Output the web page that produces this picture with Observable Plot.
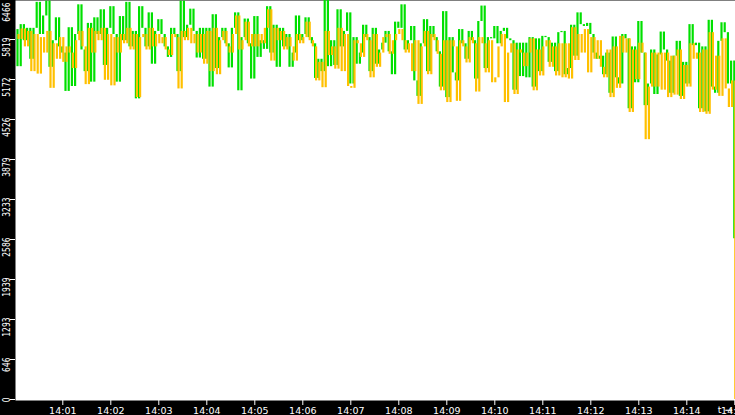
<!DOCTYPE html>
<html><head><meta charset="utf-8">
<script src="https://cdn.jsdelivr.net/npm/d3@7"></script>
<script src="https://cdn.jsdelivr.net/npm/@observablehq/plot@0.6"></script>
<style>html,body{margin:0;padding:0;background:#000;overflow:hidden}</style>
</head><body><div id="chart"></div>
<script>
const startTime = "2024-01-01T14:00:00Z";
const stepSeconds = 4;

// green series (one value every 4 s)
const greenValues = [
5980,5380,6060,5800,6000,5500,6000,6420,5900,6200,
6440,5370,5800,6170,5700,5600,4980,6010,5060,5900,
6380,5650,5300,6080,5130,6170,5900,6300,5400,6000,
6350,5900,5130,6190,5800,6420,5700,5950,4860,6350,
6000,5700,6250,5420,5950,6140,5900,5700,5530,6000,
5900,5300,6440,5850,6050,6310,5950,5520,6000,5500,
6000,5050,6220,5350,5850,6000,5750,5360,6000,6250,
4990,5850,6150,5750,5180,
6190,5530,5800,5660,6350,5600,6050,5370,6000,5700,
5900,5370,5600,6200,5800,5900,6170,5850,5750,5190,
5500,5300,6460,5380,5800,5400,6300,5700,5950,6250,
5100,5850,5420,5600,6050,5850,5300,6000,5420,5650,
5760,5950,5620,5250,6100,6000,6380,5650,5800,6030,
5150,4900,5750,6140,5300,6030,5850,5620,5050,6270,
4880,5850,5280,5150,5980,5750,5500,5950,5800,5180,
6110,6360,5350,5850,5830,
6030,5750,5950,6000,5830,5800,5000,5760,5220,5760,
5200,5850,5050,5830,5300,5870,5850,5450,5760,5300,
5930,5950,5250,5350,6050,5550,6250,6060,6030,6080,
5900,5600,5500,5550,5250,5600,4950,5860,5200,5100,
5900,5830,4700,5700,5120,6110,5600,4750,5100,5650,
4930,5570,5940,5650,5470,4950,5550,5790,4900,5450,
5100,6060,5720,5760,4700,5700,4650,6130,5050,4950,
5790,6090,5930,5100,5470,
2600
];

// orange series (one value every 4 s)
const orangeValues = [
5900,5820,5990,5700,5950,5300,5900,5260,5850,5600,
5950,5030,5750,5500,5850,5450,5700,5600,5350,5800,
5950,5700,5090,6000,5600,5950,5800,6000,5160,5900,
5070,5850,5600,5900,5750,6000,5650,5900,4880,5850,
5900,5650,6000,5700,5900,5750,5850,5650,5560,5900,
5850,5020,5950,5800,6000,5750,5900,5600,5900,5420,
5950,5300,6000,5250,5800,5950,5700,5600,5900,6200,
5650,5800,6100,5700,5900,
5700,5900,5750,6000,6300,5470,6000,5800,5950,5650,
5850,5700,5470,5900,5750,5850,6100,5800,5700,5150,
5450,5040,5950,5560,5700,5340,6000,5300,5900,5060,
5030,5800,5750,5530,5900,5800,5200,5900,5370,5600,
5850,5900,5580,5800,5900,5980,5800,5600,5750,5300,
5800,4770,5700,5950,5250,5900,5800,5580,4990,5800,
4800,5800,5700,4820,5800,5700,5440,5850,5750,4970,
5850,5750,5280,5800,5120,
5200,5700,5900,4800,5600,5750,4930,5650,5600,5380,
5600,5830,4990,5650,5230,5700,5800,5370,5700,5230,
5750,5200,5750,5180,6010,5480,5900,5600,5980,5280,
5850,5500,5800,5370,5200,5650,4880,5700,5030,5870,
5600,5830,4640,5650,5170,5760,5600,4200,5050,5600,
5050,5600,5000,5600,4880,5550,4920,5650,4850,5400,
5050,5750,5500,5600,4640,5650,4610,5930,5000,5550,
4900,5830,5020,4720,5150,
0
];

const yTickValues = [0, 646.6, 1293.2, 1939.8, 2586.4, 3233, 3879.6, 4526.2, 5172.8, 5819.4, 6466];
const yTickLabels = ["0","646","1293","1939","2586","3233","3879","4526","5172","5819","6466"];
const xTickLabels = ["14:01","14:02","14:03","14:04","14:05","14:06","14:07","14:08","14:09","14:10","14:11","14:12","14:13","14:14","14:15"];
const greenColor = "#00e000";
const orangeColor = "#ffc000";

const t0 = new Date(startTime);
const timeAt = i => new Date(+t0 + i * stepSeconds * 1000);
function segments(vals) {
  const out = [];
  for (let i = 1; i < vals.length; i++) out.push({t: timeAt(i), y1: vals[i - 1], y2: vals[i]});
  return out;
}
const xTicks = xTickLabels.map(s => new Date(`2024-01-01T${s}:00Z`));
const xLabelMap = new Map(xTicks.map((d, i) => [+d, xTickLabels[i]]));
const yLabelMap = new Map(yTickValues.map((v, i) => [v, yTickLabels[i]]));
const lastIndex = greenValues.length - 1;

const plot = Plot.plot({
  width: 735, height: 415,
  marginTop: 0, marginRight: 0, marginBottom: 15, marginLeft: 15,
  style: {background: "#000", color: "#fff", fontFamily: "DejaVu Sans", fontSize: "9.5px"},
  x: {type: "utc", domain: [t0, timeAt(lastIndex)], range: [14.3, 734.3]},
  y: {domain: [0, 6466], range: [399, -1]},
  marks: [
    Plot.frame({fill: "white", stroke: "none"}),
    Plot.ruleX(segments(greenValues), {x: "t", y1: "y1", y2: "y2", stroke: greenColor, strokeWidth: 2.2, dx: -0.5}),
    Plot.ruleX(segments(orangeValues), {x: "t", y1: "y1", y2: "y2", stroke: orangeColor, strokeWidth: 2.2, dx: 0.5}),
    Plot.axisX(xTicks, {tickSize: 5, tickPadding: 2, tickFormat: d => xLabelMap.get(+d), fontSize: 9.5}),
    Plot.axisY(yTickValues, {tickSize: 5, tickFormat: () => ""}),
    Plot.text(yTickValues.slice(0, -1), {y: d => d, text: d => yLabelMap.get(d), frameAnchor: "left", dx: -9, dy: -2, rotate: -90, textAnchor: "end", fill: "white", fontSize: 11}),
    Plot.text(yTickValues.slice(-1), {y: d => d, text: d => yLabelMap.get(d), frameAnchor: "left", dx: -9, dy: 3, rotate: -90, textAnchor: "end", fill: "white", fontSize: 11})
  ]
});
d3.select(plot).selectAll("text").filter(function() {
  return /rotate\(-90/.test(this.getAttribute("transform") || "");
}).each(function() {
  const n = (this.textContent || "").length;
  this.setAttribute("textLength", n * 4.8);
  this.setAttribute("lengthAdjust", "spacingAndGlyphs");
});
document.getElementById("chart").appendChild(plot);
</script>
</body></html>
